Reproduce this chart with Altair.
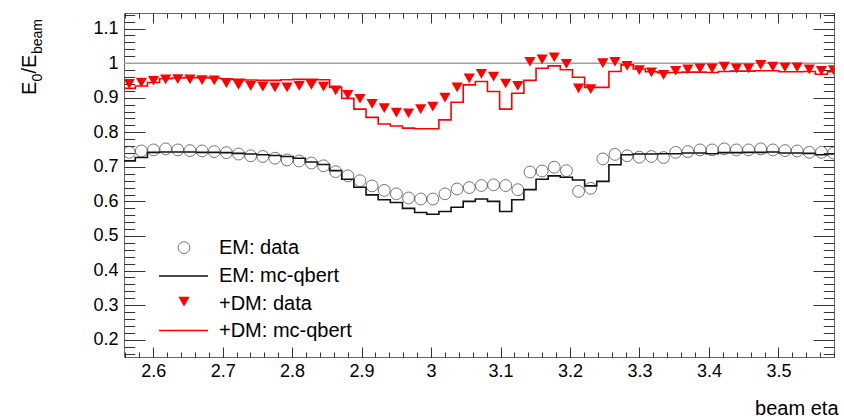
import altair as alt
import numpy as np
import pandas as pd

# ---------------- data ----------------
bin_lo = 2.5568
bin_w = 0.01748
n_bins = 59

em_data = [0.742, 0.746, 0.749, 0.752, 0.749, 0.747, 0.746, 0.744, 0.741, 0.737,
           0.732, 0.730, 0.725, 0.720, 0.717, 0.711, 0.703, 0.686, 0.674, 0.660,
           0.645, 0.632, 0.622, 0.610, 0.607, 0.607, 0.622, 0.636, 0.640, 0.646,
           0.648, 0.646, 0.634, 0.685, 0.688, 0.699, 0.689, 0.629, 0.638, 0.723,
           0.736, 0.732, 0.728, 0.730, 0.727, 0.742, 0.744, 0.749, 0.749, 0.752,
           0.749, 0.749, 0.752, 0.749, 0.747, 0.746, 0.742, 0.742, 0.740]

dm_data = [0.940, 0.944, 0.949, 0.953, 0.954, 0.953, 0.951, 0.950, 0.942, 0.937,
           0.934, 0.932, 0.930, 0.930, 0.934, 0.937, 0.932, 0.921, 0.908, 0.897,
           0.882, 0.870, 0.857, 0.855, 0.867, 0.874, 0.900, 0.930, 0.956, 0.969,
           0.961, 0.941, 0.934, 1.004, 1.011, 1.017, 0.998, 0.927, 0.925, 1.000,
           1.004, 0.992, 0.980, 0.973, 0.966, 0.978, 0.982, 0.985, 0.985, 0.990,
           0.985, 0.985, 0.995, 0.990, 0.988, 0.988, 0.982, 0.978, 0.980]

em_mc = [0.717, 0.727, 0.742, 0.743, 0.743, 0.743, 0.742, 0.742, 0.741, 0.739,
         0.737, 0.735, 0.733, 0.730, 0.725, 0.714, 0.707, 0.689, 0.664, 0.641,
         0.619, 0.605, 0.597, 0.580, 0.568, 0.563, 0.571, 0.583, 0.600, 0.607,
         0.600, 0.571, 0.605, 0.634, 0.664, 0.674, 0.670, 0.662, 0.645, 0.658,
         0.706, 0.735, 0.737, 0.737, 0.738, 0.738, 0.740, 0.740, 0.738, 0.741,
         0.741, 0.742, 0.742, 0.743, 0.740, 0.740, 0.739, 0.735, 0.737]

dm_mc = [0.927, 0.934, 0.944, 0.955, 0.957, 0.958, 0.958, 0.957, 0.955, 0.953,
         0.951, 0.950, 0.950, 0.952, 0.953, 0.953, 0.952, 0.930, 0.898, 0.867,
         0.843, 0.824, 0.818, 0.812, 0.810, 0.810, 0.836, 0.887, 0.937, 0.947,
         0.918, 0.867, 0.913, 0.950, 0.985, 0.992, 0.981, 0.959, 0.930, 0.930,
         0.976, 0.995, 0.983, 0.975, 0.972, 0.973, 0.974, 0.974, 0.973, 0.976,
         0.977, 0.977, 0.978, 0.978, 0.975, 0.975, 0.976, 0.968, 0.975]

ref_level = [1.0]
legend_labels = ["EM: data", "EM: mc-qbert", "+DM: data", "+DM: mc-qbert"]

x_ticks = [2.6, 2.7, 2.8, 2.9, 3.0, 3.1, 3.2, 3.3, 3.4, 3.5]
y_ticks = [0.2, 0.3, 0.4, 0.5, 0.6, 0.7, 0.8, 0.9, 1.0, 1.1]
x_minor = [round(v, 2) for v in np.arange(2.56, 3.581, 0.02)]
y_minor = [round(v, 2) for v in np.arange(0.16, 1.141, 0.02)]

# ---------------- tables ----------------
centers = [bin_lo + (i + 0.5) * bin_w for i in range(n_bins)]
edges = [bin_lo + i * bin_w for i in range(n_bins + 1)]
pts = pd.DataFrame({"x": centers, "em": em_data, "dm": dm_data})
em_step = pd.DataFrame({"x": edges, "y": em_mc + [em_mc[-1]]})
dm_step = pd.DataFrame({"x": edges, "y": dm_mc + [dm_mc[-1]]})

W, H = 710, 344
FONT = "Liberation Sans"
xs = alt.Scale(domain=[2.558, 3.58], nice=False, zero=False)
ys = alt.Scale(domain=[0.15, 1.145], nice=False, zero=False)

TICKC = "#333333"


def tick_axis(orient, offset, size, values):
    return alt.Axis(orient=orient, offset=offset, tickSize=size, values=values,
                    labels=False, domain=False, grid=False, title=None,
                    ticks=True, tickColor=TICKC, tickWidth=1)


lab_x = alt.Axis(orient="bottom", values=x_ticks, format="~g", ticks=False, tickSize=0,
                 domain=False, grid=False, labelFont=FONT, labelFontSize=18,
                 labelColor="#000", labelPadding=5,
                 title="beam eta", titleFont=FONT, titleFontSize=20, titleFontWeight="normal",
                 titleColor="#000", titleAnchor="end", titleAlign="right",
                 titleBaseline="alphabetic", titleX=714, titleY=57)
lab_y = alt.Axis(orient="left", values=y_ticks, format="~g", ticks=False, tickSize=0,
                 domain=False, grid=False, labelFont=FONT, labelFontSize=18,
                 labelColor="#000", labelPadding=6, title=None)

# reference line at 1
ref = alt.Chart(pd.DataFrame({"y": ref_level})).mark_rule(
    color="#a0a0a0", strokeWidth=1.5).encode(
    y=alt.Y("y:Q", scale=ys, axis=tick_axis("left", -W, 10.7, y_minor)))

em_line = alt.Chart(em_step).mark_line(
    interpolate="step-after", color="#111111", strokeWidth=1.6, clip=True).encode(
    x=alt.X("x:Q", scale=xs, axis=lab_x),
    y=alt.Y("y:Q", scale=ys, axis=lab_y))

dm_line = alt.Chart(dm_step).mark_line(
    interpolate="step-after", color="#ff0000", strokeWidth=1.6, clip=True).encode(
    x=alt.X("x:Q", scale=xs, axis=tick_axis("top", -H, 10, x_ticks)),
    y=alt.Y("y:Q", scale=ys, axis=tick_axis("right", -W, 21, y_ticks)))

circ = alt.Chart(pts).mark_point(
    shape="circle", filled=False, color="#3a3a3a", size=140, strokeWidth=1, clip=True).encode(
    x=alt.X("x:Q", scale=xs, axis=tick_axis("top", -H, 5, x_minor)),
    y=alt.Y("em:Q", scale=ys, axis=tick_axis("right", -W, 10.7, y_minor)))

tri = alt.Chart(pts).mark_point(
    shape="triangle-down", filled=True, color="#ff0000", opacity=1, size=125,
    strokeWidth=0, clip=True).encode(
    x=alt.X("x:Q", scale=xs, axis=tick_axis("bottom", -H, 10, x_ticks)),
    y=alt.Y("dm:Q", scale=ys, axis=tick_axis("left", -W, 21, y_ticks)))

ghost = alt.Chart(pts).mark_point(opacity=0).encode(
    x=alt.X("x:Q", scale=xs, axis=tick_axis("bottom", -H, 5, x_minor)),
    y=alt.Y("dm:Q", scale=ys, axis=None))

# ---------------- legend ----------------
one = pd.DataFrame({"a": [0]})
leg_circ = alt.Chart(one).mark_point(shape="circle", filled=False, color="#3a3a3a",
                                     size=140, strokeWidth=1).encode(
    x=alt.value(60), y=alt.value(234.7))
leg_tri = alt.Chart(one).mark_point(shape="triangle-down", filled=True, color="#ff0000",
                                    opacity=1, size=125, strokeWidth=0).encode(
    x=alt.value(60), y=alt.value(288.7))
leg_em = alt.Chart(one).mark_rule(color="#111111", strokeWidth=1.6).encode(
    x=alt.value(35), x2=alt.value(84), y=alt.value(263))
leg_dm = alt.Chart(one).mark_rule(color="#ff0000", strokeWidth=1.6).encode(
    x=alt.value(35), x2=alt.value(84), y=alt.value(317.5))
leg_text = alt.Chart(pd.DataFrame({"t": legend_labels, "yy": [235.3, 262.5, 291, 317.5]})
                     ).mark_text(align="left", baseline="middle", font=FONT, fontSize=20,
                                 color="#000").encode(
    x=alt.value(95), y=alt.Y("yy:Q", scale=None), text="t:N")

# ---------------- y title E_0 / E_beam ----------------
def ttl(txt, xpix, ypix, size):
    return alt.Chart(pd.DataFrame({"t": [txt]})).mark_text(
        angle=270, align="left", baseline="alphabetic", font=FONT, fontSize=size,
        color="#000").encode(x=alt.value(xpix), y=alt.value(ypix), text="t:N")

ytitle = [ttl("E", -88, 82, 20), ttl("0", -82, 68.5, 14),
          ttl("/E", -88, 60.5, 20), ttl("beam", -82, 41, 14)]

chart = alt.layer(ref, em_line, dm_line, circ, tri, ghost,
                  leg_circ, leg_tri, leg_em, leg_dm, leg_text, *ytitle
                  ).resolve_scale(x="shared", y="shared").resolve_axis(
    x="independent", y="independent").properties(
    width=W, height=H,
    autosize=alt.AutoSizeParams(type="none"),
    padding={"left": 124, "top": 13, "right": 10, "bottom": 61},
    background="white",
).configure_view(stroke="#666666", strokeWidth=1)

chart.save("out.html", embed_options={"renderer": "svg", "actions": False})
